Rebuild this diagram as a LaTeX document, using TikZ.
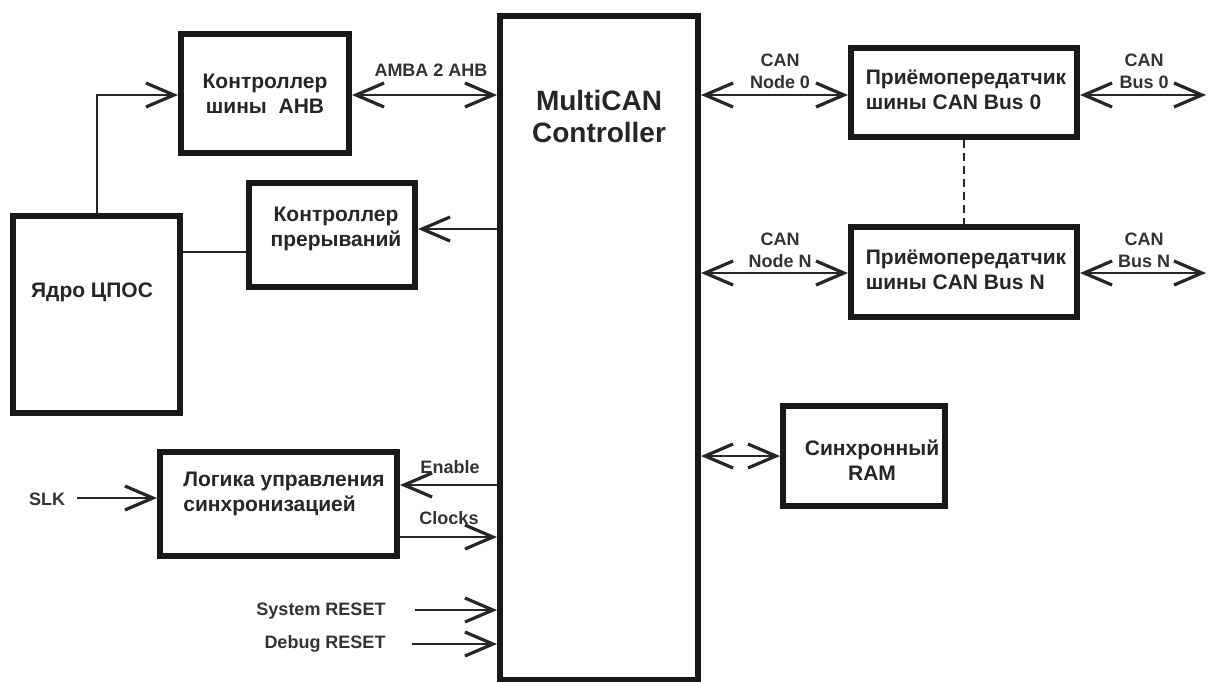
\documentclass[tikz,border=0pt]{standalone}
\usepackage{fontspec}
\setmainfont{Liberation Sans}
\usetikzlibrary{arrows.meta}
\begin{document}
\begin{tikzpicture}[x=0.5pt,y=-0.5pt,
  box/.style={draw=black!90, line width=3pt, rectangle, inner sep=0pt},
  conn/.style={line width=0.9pt, draw=black!85},
  >={Straight Barb[length=14pt,width=12pt,line width=1.6pt]},
  big/.style={font=\fontsize{10.5}{12.5}\selectfont\bfseries, text=black!85, inner sep=0pt},
  huge/.style={font=\fontsize{14}{16}\selectfont\bfseries, text=black!85, inner sep=0pt},
  small/.style={font=\fontsize{9}{11}\selectfont\bfseries, text=black!80, inner sep=0pt}]
\useasboundingbox (0,0) rectangle (1208,681);
% boxes
\node[box, minimum width=84pt, minimum height=59.5pt] (ahb) at (265,93.5) {};
\node[box, minimum width=83pt, minimum height=52pt] (irq) at (332,235) {};
\node[box, minimum width=83.5pt, minimum height=98.5pt] (core) at (96.5,314.5) {};
\node[box, minimum width=99pt, minimum height=332pt] (mc) at (599,348) {};
\node[box, minimum width=113pt, minimum height=44.5pt] (tr0) at (964,92.5) {};
\node[box, minimum width=113pt, minimum height=45pt] (trN) at (964,272) {};
\node[box, minimum width=81pt, minimum height=50pt] (ram) at (864,456) {};
\node[box, minimum width=118.5pt, minimum height=52pt] (logic) at (278.5,504) {};
% box texts
\node[big, align=center] (ahbT) at (265,94) {Контроллер\\шины~~AHB};
\node[big, align=center] (irqT) at (336,229) {Контроллер\\прерываний};
\node[big] (coreT) at (92,292) {Ядро ЦПОС};
\node[huge, align=center] (mcT) at (599,116) {MultiCAN\\Controller};
\node[big, align=left] (tr0T) at (966,90) {Приёмопередатчик\\шины CAN Bus 0};
\node[big, align=left] (trNT) at (966,270) {Приёмопередатчик\\шины CAN Bus N};
\node[big, align=center] (ramT) at (872,460) {Синхронный\\RAM};
\node[big, align=left] (logicT) at (284,494) {Логика управления\\ синхронизацией};
% small labels
\node[small] (amba) at (431,70) {AMBA 2 AHB};
\node[small, align=center] (n0) at (780,71) {CAN\\Node 0};
\node[small, align=center] (b0) at (1144,71) {CAN\\Bus 0};
\node[small, align=center] (nN) at (780,250) {CAN\\Node N};
\node[small, align=center] (bN) at (1144,250) {CAN\\Bus N};
\node[small] (en) at (450,467) {Enable};
\node[small] (cl) at (449,518) {Clocks};
\node[small] (slk) at (47,499) {SLK};
\node[small] (sysr) at (321,611) {System RESET};
\node[small] (dbgr) at (325,644) {Debug RESET};
% coordinates
\coordinate (cx) at (97,95);
\coordinate (yirq) at (0,229);
\coordinate (ycore) at (0,252);
\coordinate (y0) at (0,95);
\coordinate (yN) at (0,273);
\coordinate (b0end) at (1206,95);
\coordinate (bNend) at (1206,273);
\coordinate (yen) at (0,485);
\coordinate (ycl) at (0,537);
\coordinate (slkS) at (77,498);
\coordinate (sysS) at (415,610);
\coordinate (dbgS) at (412,644);
% connectors
\draw[conn,->] (core.north -| cx) -- (cx) -- (ahb.west |- cx);
\draw[conn,<->] (ahb.east |- cx) -- (mc.west |- cx);
\draw[conn,->] (mc.west |- yirq) -- (irq.east |- yirq);
\draw[conn] (core.east |- ycore) -- (irq.west |- ycore);
\draw[conn,<->] (mc.east |- y0) -- (tr0.west |- y0);
\draw[conn,<->] (tr0.east |- b0end) -- (b0end);
\draw[conn,<->] (mc.east |- yN) -- (trN.west |- yN);
\draw[conn,<->] (trN.east |- bNend) -- (bNend);
\draw[conn,dash pattern=on 4pt off 2.5pt] (tr0.south) -- (trN.north);
\draw[conn,<->] (mc.east |- ram.west) -- (ram.west);
\draw[conn,->] (mc.west |- yen) -- (logic.east |- yen);
\draw[conn,->] (logic.east |- ycl) -- (mc.west |- ycl);
\draw[conn,->] (slkS) -- (logic.west |- slkS);
\draw[conn,->] (sysS) -- (mc.west |- sysS);
\draw[conn,->] (dbgS) -- (mc.west |- dbgS);
\end{tikzpicture}
\end{document}
